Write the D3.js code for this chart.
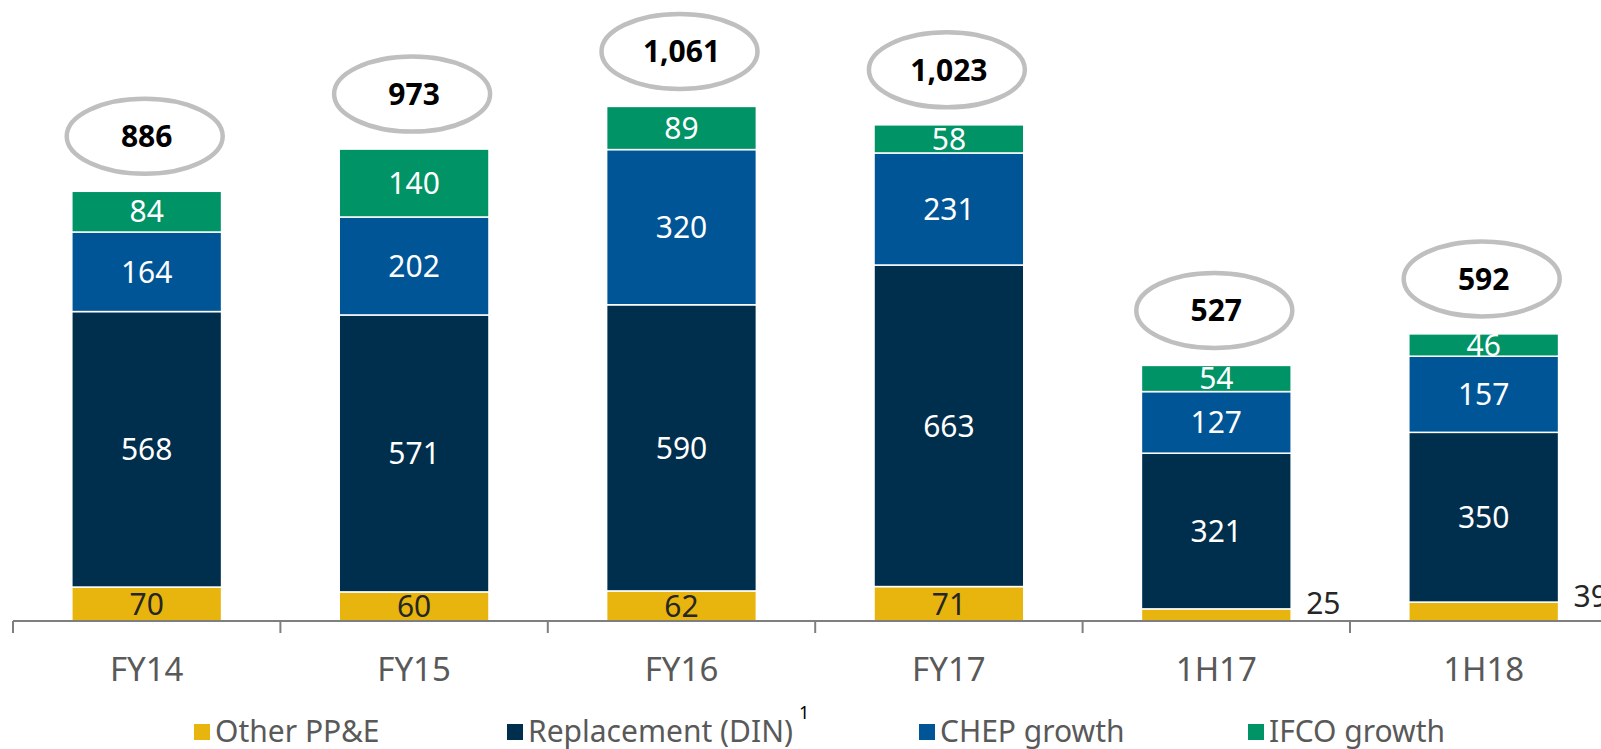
<!DOCTYPE html>
<html><head><meta charset="utf-8">
<script src="https://cdn.jsdelivr.net/npm/d3@7"></script>
<style>body{margin:0;background:#fff}svg{display:block}</style>
</head><body><svg id="c" width="1601" height="749"></svg>
<script>
const categories = ["FY14","FY15","FY16","FY17","1H17","1H18"];
const seriesNames = ["Other PP&E","Replacement (DIN)","CHEP growth","IFCO growth"];
const otherPPE   = [70, 60, 62, 71, 25, 39];
const replacement= [568, 571, 590, 663, 321, 350];
const chepGrowth = [164, 202, 320, 231, 127, 157];
const ifcoGrowth = [84, 140, 89, 58, 54, 46];
const totals     = [886, 973, 1061, 1023, 527, 592];
const colors = ["#E8B50E","#002E4D","#005596","#009366"];
const labelColors = ["#262626","#ffffff","#ffffff","#ffffff"];

const svg = d3.select("#c");
const font = "'Noto Sans', 'Open Sans', sans-serif";
const x = d3.scaleBand().domain(categories).range([13, 13 + 6*267.4]).paddingInner(0.44).paddingOuter(0.22);
const y = d3.scaleLinear().domain([0, 1200]).range([621, 621 - 1200*0.485]);

const table = categories.map((c,i)=>({cat:c, s0:otherPPE[i], s1:replacement[i], s2:chepGrowth[i], s3:ifcoGrowth[i]}));
const stack = d3.stack().keys(["s0","s1","s2","s3"])(table);

const outside = (d, si) => si === 0 && (y(d[0]) - y(d[1])) < 25;

const g = svg.append("g");
stack.forEach((layer, si) => {
  const lg = g.append("g");
  lg.selectAll("rect").data(layer).join("rect")
    .attr("x", d => x(d.data.cat))
    .attr("width", x.bandwidth())
    .attr("y", d => y(d[1]))
    .attr("height", d => y(d[0]) - y(d[1]))
    .attr("fill", colors[si])
    .attr("stroke", "#fff").attr("stroke-width", 1.5);
  lg.selectAll("text").data(layer).join("text")
    .attr("x", d => outside(d, si) ? x(d.data.cat) + x.bandwidth() + 15 : x(d.data.cat) + x.bandwidth()/2)
    .attr("y", d => outside(d, si) ? y(d[1]) - 6 : (y(d[0]) + y(d[1]))/2)
    .attr("dy", "0.36em")
    .attr("text-anchor", d => outside(d, si) ? "start" : "middle")
    .attr("font-family", font).attr("font-size", 30)
    .attr("fill", d => outside(d, si) ? "#262626" : labelColors[si])
    .text(d => d[1] - d[0]);
});

// total ellipses
const tg = svg.append("g");
categories.forEach((c,i) => {
  const cx = x(c) + x.bandwidth()/2 - 2;
  const cy = y(totals[i]) - 55;
  tg.append("ellipse").attr("cx", cx).attr("cy", cy).attr("rx", 78).attr("ry", 37.5)
    .attr("fill", "#fff").attr("stroke", "#BFBFBF").attr("stroke-width", 4.5);
  tg.append("text").attr("x", cx + 2).attr("y", cy).attr("dy", "0.36em")
    .attr("text-anchor", "middle").attr("font-family", font).attr("font-weight", "bold")
    .attr("font-size", 30).attr("fill", "#000")
    .text(d3.format(",")(totals[i]));
});

// axis
const axisG = svg.append("g").attr("transform", "translate(0,621)");
axisG.append("line").attr("x1", 13).attr("x2", 1601).attr("y1", 0).attr("y2", 0)
  .attr("stroke", "#7F7F7F").attr("stroke-width", 2);
const step = x.step();
const tickXs = categories.map(c => x(c) - step*0.22).concat([x(categories[5]) + x.bandwidth() + step*0.22]);
axisG.selectAll("line.tk").data(tickXs).join("line").attr("class","tk")
  .attr("x1", d=>d).attr("x2", d=>d).attr("y1", 0).attr("y2", 12)
  .attr("stroke", "#7F7F7F").attr("stroke-width", 2);
const ax = d3.axisBottom(x).tickSize(0).tickPadding(36);
const axL = svg.append("g").attr("transform", "translate(0,621)").call(ax);
axL.select(".domain").remove();
axL.selectAll("text").attr("font-family", font).attr("font-size", 33).attr("fill", "#595959").attr("dy","0.36em").attr("y", 48);

// legend
const legX = [194, 507, 919, 1248];
const lg = svg.append("g");
seriesNames.forEach((n,i) => {
  lg.append("rect").attr("x", legX[i]).attr("y", 724).attr("width", 16).attr("height", 16).attr("fill", colors[i]);
  lg.append("text").attr("x", legX[i] + 21).attr("y", 731).attr("dy", "0.36em")
    .attr("font-family", font).attr("font-size", 30).attr("fill", "#595959").text(n);
});
lg.append("text").attr("x", 799).attr("y", 719).attr("font-family", font).attr("font-size", 18)
  .attr("fill", "#000").text("1");
</script></body></html>
